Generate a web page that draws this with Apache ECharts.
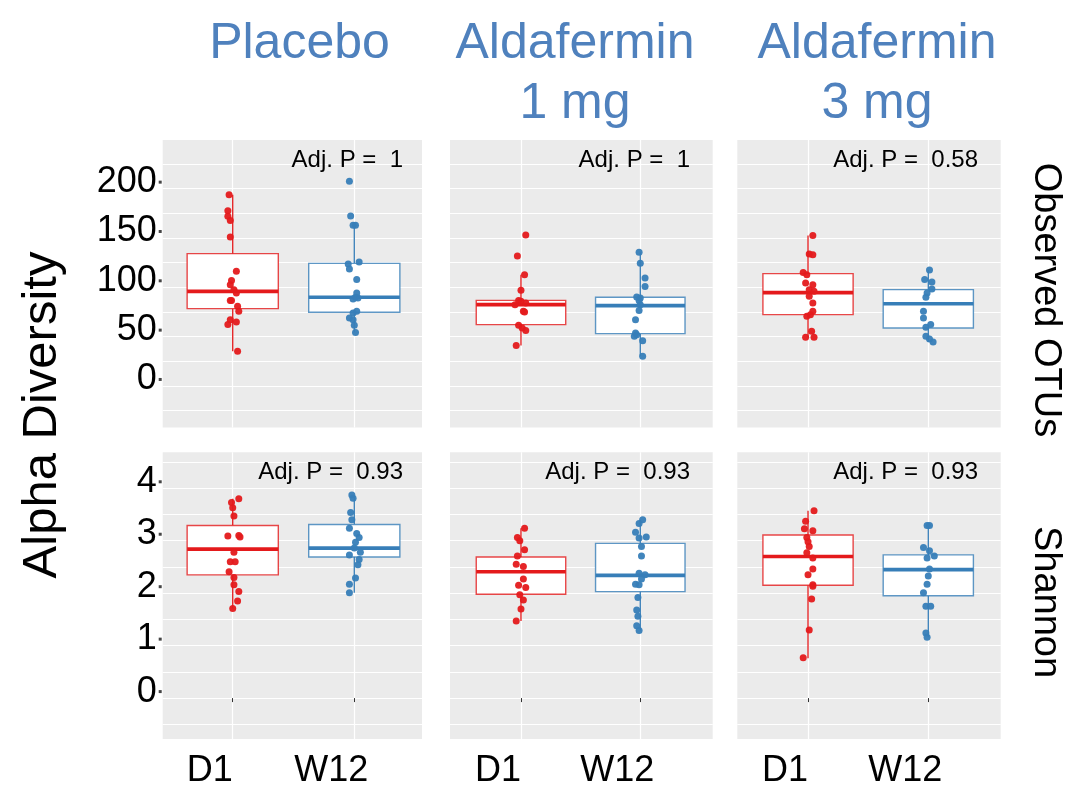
<!DOCTYPE html>
<html><head><meta charset="utf-8">
<script src="https://cdn.jsdelivr.net/npm/echarts@6/dist/echarts.min.js"></script>
<style>html,body{margin:0;padding:0;background:#fff}#c{width:1075px;height:786px}</style>
</head><body><div id="c"></div>
<script>
// ---------- data ----------
const groups = ['D1', 'W12'];
const treatments = ['Placebo', 'Aldafermin\n1 mg', 'Aldafermin\n3 mg'];
const metrics = ['Observed OTUs', 'Shannon'];
const otuTicks = [0, 50, 100, 150, 200];
const shannonTicks = [0, 1, 2, 3, 4];
const otuGridVals = [-25, 0, 25, 50, 75, 100, 125, 150, 175, 200, 225];
const shannonGridVals = [-0.5, 0, 0.5, 1, 1.5, 2, 2.5, 3, 3.5, 4, 4.5];
const adjP = ['1', '1', '0.58', '0.93', '0.93', '0.93'];

// Observed OTUs: values and horizontal jitter (category units)
const otuPlaceboD1 = [193.9,177.7,172.0,167.6,151.0,116.2,106.8,102.7,97.6,94.3,86.5,86.5,80.7,75.7,67.2,64.9,62.2,35.1];
const otuPlaceboD1Jit = [-0.03,-0.04,-0.04,-0.02,-0.02,0.03,-0.01,-0.02,0.01,0.03,-0.02,-0.01,0.04,0.05,-0.02,0.03,-0.04,0.04];
const otuPlaceboW12 = [207.4,172.3,162.8,162.8,125.7,123.6,118.6,107.8,94.3,89.9,89.2,88.2,75.7,74.0,68.9,67.2,61.5,54.1];
const otuPlaceboW12Jit = [-0.04,-0.03,-0.01,0.01,0.04,-0.05,-0.04,0.02,0.02,0.01,0.03,-0.01,0.02,-0.01,-0.04,-0.01,0.0,0.01];
const otuAld1D1 = [153.0,131.8,112.8,97.0,86.5,85.8,84.1,82.4,75.7,75.0,61.5,58.8,56.1,40.9];
const otuAld1D1Jit = [0.04,-0.03,0.03,0.0,-0.02,0.0,0.04,-0.05,0.02,0.03,-0.02,0.01,0.04,-0.04];
const otuAld1W12 = [135.5,124.3,109.5,100.7,90.2,89.2,86.5,82.4,76.4,67.2,53.7,52.0,50.3,45.9,30.1];
const otuAld1W12Jit = [-0.01,0.0,0.04,0.04,-0.03,0.0,-0.01,0.0,-0.01,-0.04,-0.04,-0.03,-0.05,0.02,0.02];
const otuAld3D1 = [152.4,133.8,133.1,114.9,112.8,104.4,102.7,97.6,95.9,90.9,84.1,75.7,72.3,70.6,55.4,49.3,49.3];
const otuAld3D1Jit = [0.04,0.01,0.04,-0.04,-0.01,-0.02,0.04,0.01,0.05,0.01,0.04,0.04,0.02,-0.01,0.03,-0.02,0.05];
const otuAld3W12 = [117.6,107.8,105.4,98.3,94.3,89.9,75.7,68.9,62.2,59.5,50.3,47.6,44.6];
const otuAld3W12Jit = [0.01,-0.03,0.03,0.03,-0.01,-0.02,-0.04,-0.04,0.02,-0.02,-0.02,0.01,0.04];

// Shannon
const shPlaceboD1 = [3.80,3.73,3.63,3.47,3.09,3.10,3.07,2.78,2.60,2.60,2.41,2.30,2.16,2.03,1.85,1.71];
const shPlaceboD1Jit = [0.05,-0.01,0.0,0.01,-0.04,0.05,0.06,0.01,-0.02,0.02,-0.03,0.01,0.01,0.05,0.04,0.0];
const shPlaceboW12 = [3.87,3.81,3.54,3.40,3.24,3.14,3.06,2.97,2.86,2.78,2.73,2.64,2.54,2.29,2.17,2.01];
const shPlaceboW12Jit = [-0.02,-0.01,-0.03,-0.02,-0.04,0.02,0.04,0.01,0.0,0.05,-0.04,0.04,0.03,0.01,-0.04,-0.04];
const shAld1D1 = [3.24,3.06,3.00,2.83,2.71,2.55,2.51,2.27,2.15,2.11,1.97,1.87,1.70,1.47];
const shAld1D1Jit = [0.03,-0.03,-0.01,0.03,-0.03,-0.04,0.02,0.02,-0.02,0.04,-0.01,0.02,0.0,-0.04];
const shAld1W12 = [3.40,3.33,3.16,3.07,3.05,2.89,2.71,2.38,2.35,2.27,2.17,2.16,1.92,1.68,1.56,1.38,1.29];
const shAld1W12Jit = [0.02,-0.01,-0.04,0.05,-0.01,0.01,0.01,-0.01,0.04,0.01,-0.04,-0.01,-0.02,-0.03,-0.02,-0.03,-0.01];
const shAld3D1 = [3.57,3.37,3.23,3.19,3.06,2.98,2.89,2.77,2.67,2.46,2.35,2.16,2.13,1.89,1.30,0.77];
const shAld3D1Jit = [0.05,-0.02,-0.03,0.04,-0.01,0.0,0.01,-0.01,0.04,0.04,0.0,0.04,0.04,0.03,0.01,-0.04];
const shAld3W12 = [3.29,3.29,2.87,2.81,2.71,2.67,2.46,2.33,2.17,2.01,1.75,1.75,1.24,1.16];
const shAld3W12Jit = [-0.01,0.01,-0.04,0.01,0.05,-0.01,0.01,0.0,-0.01,-0.04,-0.02,0.02,-0.02,-0.01];

// Box statistics [lower whisker, Q1, median, Q3, upper whisker] for D1 and W12
const otuBoxPlacebo = [[35.1,78.4,95.9,134.1,193.9],[54.1,74.7,89.9,124.3,162.8]];
const otuBoxAld1 = [[40.9,62.2,82.4,86.8,112.8],[30.1,53.0,81.4,89.9,135.5]];
const otuBoxAld3 = [[49.3,72.3,94.6,113.9,152.4],[44.6,58.8,83.4,97.6,117.6]];
const shBoxPlacebo = [[1.71,2.35,2.84,3.29,3.80],[2.01,2.69,2.86,3.31,3.87]];
const shBoxAld1 = [[1.47,1.98,2.41,2.69,3.24],[1.29,2.03,2.34,2.95,3.40]];
const shBoxAld3 = [[0.76,2.15,2.70,3.11,3.57],[1.16,1.95,2.45,2.73,3.29]];

// ---------- assembly ----------
const panelPoints = [
  [[otuPlaceboD1, otuPlaceboD1Jit, otuPlaceboW12, otuPlaceboW12Jit],
   [otuAld1D1, otuAld1D1Jit, otuAld1W12, otuAld1W12Jit],
   [otuAld3D1, otuAld3D1Jit, otuAld3W12, otuAld3W12Jit]],
  [[shPlaceboD1, shPlaceboD1Jit, shPlaceboW12, shPlaceboW12Jit],
   [shAld1D1, shAld1D1Jit, shAld1W12, shAld1W12Jit],
   [shAld3D1, shAld3D1Jit, shAld3W12, shAld3W12Jit]]
];
const panelBoxes = [[otuBoxPlacebo, otuBoxAld1, otuBoxAld3], [shBoxPlacebo, shBoxAld1, shBoxAld3]];

const FONT = '"Liberation Sans", Arial, Helvetica, sans-serif';
const colLeft = [162.7, 450, 737.3];
const colWidth = [259.3, 262.7, 263.4];
const rowTop = [140, 452.3];
const rowHeight = [287.5, 286.7];
const xRange = [[0.424, 2.557], [0.405, 2.607], [0.412, 2.602]];
const yRange = [[-42.1, 249.3], [-0.78, 4.686]];
const groupColor = ['#E41A1C', '#377EB8'];
const boxEdge = ['rgba(228,26,28,0.8)', 'rgba(55,126,184,0.8)'];
const titleBlue = '#4F81BD';

const grids = [], xAxes = [], yAxes = [], series = [];
for (let r = 0; r < 2; r++) {
  for (let c = 0; c < 3; c++) {
    const gi = r * 3 + c;
    grids.push({left: colLeft[c], top: rowTop[r], width: colWidth[c], height: rowHeight[r],
      show: true, backgroundColor: '#EBEBEB', borderWidth: 0, containLabel: false,
      outerBoundsMode: 'none'});
    xAxes.push({
      type: 'value', gridIndex: gi, min: xRange[c][0], max: xRange[c][1],
      axisLine: {show: false},
      axisTick: {show: r === 1, customValues: [1, 2], length: 4, lineStyle: {color: '#333', width: 1}},
      splitLine: {show: true, lineStyle: {color: '#fff', width: 1.2}},
      axisLabel: {show: r === 1, customValues: [1, 2], formatter: v => groups[Math.round(v) - 1],
        fontFamily: FONT, fontSize: 36, color: '#000', margin: 14, padding: [0, 46, 0, 0]}
    });
    const isOtu = r === 0;
    yAxes.push({
      type: 'value', gridIndex: gi, min: yRange[r][0], max: yRange[r][1],
      axisLine: {show: false},
      axisTick: {show: false, customValues: isOtu ? otuGridVals : shannonGridVals},
      splitLine: {show: true, lineStyle: {color: '#fff', width: 1.2}},
      axisLabel: {show: c === 0, customValues: isOtu ? otuTicks : shannonTicks, margin: 1,
        padding: [0, 0, 13, 0],
        formatter: v => '{n|' + v + '}{s|}{d|}',
        rich: {
          n: {fontFamily: FONT, fontSize: 36, color: '#000'},
          s: {width: 2, height: 3},
          d: {width: 3, height: 3, backgroundColor: '#444'}
        }}
    });
    const bx = panelBoxes[r][c];
    series.push({
      type: 'custom', xAxisIndex: gi, yAxisIndex: gi, z: 2,
      data: [[1].concat(bx[0]).concat([0]), [2].concat(bx[1]).concat([1])],
      renderItem: function (params, api) {
        const x = api.value(0);
        const g = api.value(6);
        const col = groupColor[g];
        const pLo = api.coord([x, api.value(1)]);
        const pQ1 = api.coord([x, api.value(2)]);
        const pMd = api.coord([x, api.value(3)]);
        const pQ3 = api.coord([x, api.value(4)]);
        const pHi = api.coord([x, api.value(5)]);
        const half = api.size([0.75, 0])[0] / 2;
        return {type: 'group', children: [
          {type: 'line', shape: {x1: pLo[0], y1: pLo[1], x2: pQ1[0], y2: pQ1[1]}, style: {stroke: col, lineWidth: 1.3}},
          {type: 'line', shape: {x1: pQ3[0], y1: pQ3[1], x2: pHi[0], y2: pHi[1]}, style: {stroke: col, lineWidth: 1.3}},
          {type: 'rect', shape: {x: pQ3[0] - half, y: pQ3[1], width: 2 * half, height: pQ1[1] - pQ3[1]},
            style: {fill: '#fff', stroke: boxEdge[g], lineWidth: 1.4}},
          {type: 'line', shape: {x1: pMd[0] - half, y1: pMd[1], x2: pMd[0] + half, y2: pMd[1]},
            style: {stroke: col, lineWidth: 3.6}}
        ]};
      }
    });
    const pts = panelPoints[r][c];
    for (let g = 0; g < 2; g++) {
      const ys = pts[g * 2], js = pts[g * 2 + 1];
      series.push({
        type: 'scatter', xAxisIndex: gi, yAxisIndex: gi, z: 3,
        symbolSize: 7, itemStyle: {color: groupColor[g], opacity: 0.95},
        data: ys.map((v, i) => [g + 1 + js[i], v]),
        silent: true
      });
    }
  }
}

const titleX = [299.5, 575, 877];
const pTextX = [403, 690, 978];
const pTextY = [160, 472];
const graphic = [];
treatments.forEach((t, i) => {
  graphic.push({type: 'text', x: titleX[i], y: 14, z: 100, silent: true,
    style: {text: t, font: 'normal 50px ' + FONT, fill: titleBlue, textAlign: 'center', textVerticalAlign: 'top', lineHeight: 60}});
});
for (let r = 0; r < 2; r++) for (let c = 0; c < 3; c++) {
  graphic.push({type: 'text', x: pTextX[c], y: pTextY[r], z: 100, silent: true,
    style: {text: 'Adj. P =  ' + adjP[r * 3 + c], font: 'normal 24px ' + FONT, fill: '#000', textAlign: 'right', textVerticalAlign: 'middle'}});
}
graphic.push({type: 'text', x: 1045, y: 300, rotation: -Math.PI / 2, z: 100, silent: true,
  style: {text: metrics[0], font: 'normal 38px ' + FONT, fill: '#000', textAlign: 'center', textVerticalAlign: 'middle'}});
graphic.push({type: 'text', x: 1045, y: 602, rotation: -Math.PI / 2, z: 100, silent: true,
  style: {text: metrics[1], font: 'normal 38px ' + FONT, fill: '#000', textAlign: 'center', textVerticalAlign: 'middle'}});
graphic.push({type: 'text', x: 42, y: 415, rotation: Math.PI / 2, z: 100, silent: true,
  style: {text: 'Alpha Diversity', font: 'normal 49px ' + FONT, fill: '#000', textAlign: 'center', textVerticalAlign: 'middle'}});

const chart = echarts.init(document.getElementById('c'));
chart.setOption({
  animation: false,
  backgroundColor: '#fff',
  grid: grids, xAxis: xAxes, yAxis: yAxes, series: series, graphic: graphic
});
</script>
</body></html>
